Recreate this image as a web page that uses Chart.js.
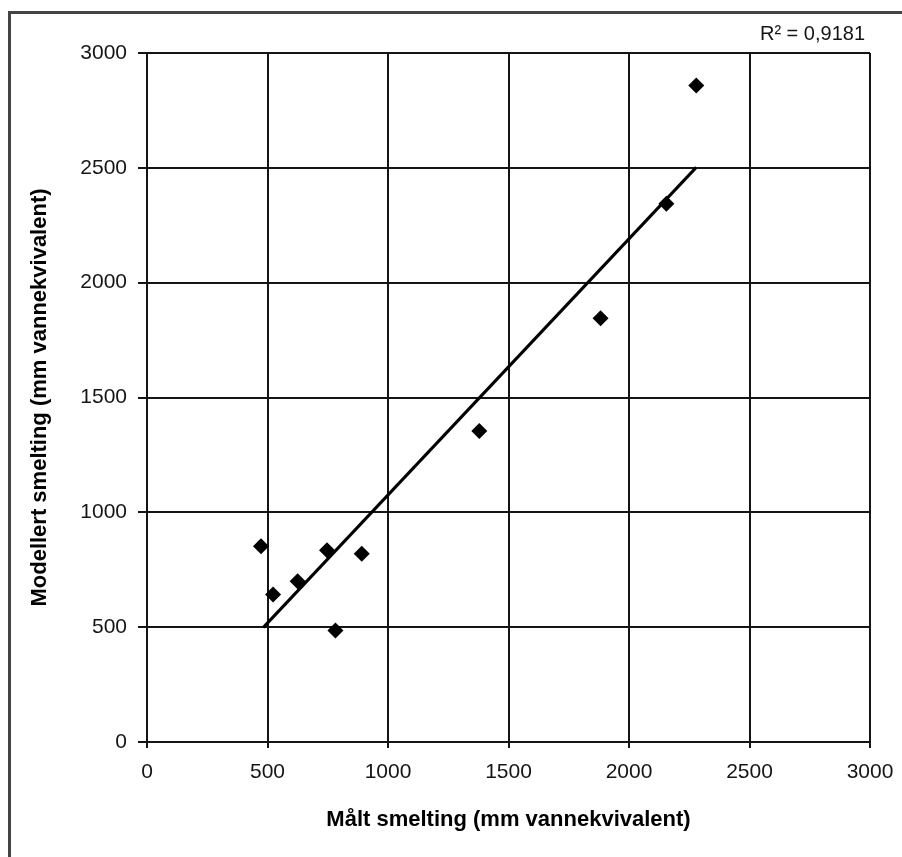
<!DOCTYPE html>
<html>
<head>
<meta charset="utf-8">
<script src="https://cdn.jsdelivr.net/npm/chart.js@4"></script>
<style>
  body { margin: 0; background: #fff; }
  #wrap { width: 902px; height: 857px; }
</style>
</head>
<body>
<div id="wrap"><canvas id="smeltChart" width="902" height="857"></canvas></div>
<script>
// measured vs modelled melt (mm water equivalent)
const maltSmelting = [473, 523, 625, 747, 782, 891, 1379, 1882, 2155, 2279];
const modellertSmelting = [852, 642, 700, 835, 486, 820, 1354, 1845, 2344, 2859];

// linear trend line, drawn between its two end points
const trendX = [483, 2279];
const trendY = [499, 2502];

const axisTicks = [0, 500, 1000, 1500, 2000, 2500, 3000];
const r2Label = "R\u00b2 = 0,9181";

const FONT = "'Liberation Sans', Arial, sans-serif";
const INK = "#151515";

const points = maltSmelting.map((x, i) => ({ x, y: modellertSmelting[i] }));
const trend = trendX.map((x, i) => ({ x, y: trendY[i] }));

// outer frame and the R² text
const extras = {
  id: "extras",
  beforeDraw(chart) {
    const ctx = chart.ctx;
    ctx.save();
    ctx.fillStyle = "#fff";
    ctx.fillRect(0, 0, chart.width, chart.height);
    ctx.strokeStyle = "#444";
    ctx.lineWidth = 3;
    ctx.beginPath();
    ctx.moveTo(9.5, chart.height + 5);
    ctx.lineTo(9.5, 12.5);
    ctx.lineTo(chart.width + 5, 12.5);
    ctx.stroke();
    ctx.restore();
  },
  afterDraw(chart) {
    const ctx = chart.ctx;
    ctx.save();
    ctx.font = "20px " + FONT;
    ctx.fillStyle = INK;
    ctx.textAlign = "right";
    ctx.textBaseline = "middle";
    ctx.fillText(r2Label, chart.chartArea.right - 5, 34);
    ctx.restore();
  }
};

const plain = v => String(v);

new Chart(document.getElementById("smeltChart"), {
  type: "scatter",
  data: {
    datasets: [
      {
        data: points,
        pointStyle: "rectRot",
        pointRadius: 8,
        backgroundColor: "#000",
        borderColor: "#000",
        borderWidth: 0
      },
      {
        type: "line",
        data: trend,
        showLine: true,
        pointRadius: 0,
        borderColor: "#000",
        borderWidth: 3,
        fill: false
      }
    ]
  },
  options: {
    responsive: false,
    animation: false,
    layout: { padding: { top: 53, right: 32, left: 0, bottom: 0 } },
    plugins: { legend: { display: false }, tooltip: { enabled: false } },
    scales: {
      x: {
        type: "linear",
        min: 0,
        max: 3000,
        afterBuildTicks: s => { s.ticks = axisTicks.map(v => ({ value: v })); },
        afterFit: s => { s.height = 115; s.paddingRight = 0; s.paddingLeft = 0; },
        ticks: { autoSkip: false, maxRotation: 0, padding: 12, color: INK, font: { family: FONT, size: 21 }, callback: plain },
        grid: { color: INK, lineWidth: 2, tickLength: 6 },
        border: { color: INK, width: 2 },
        title: {
          display: true,
          text: "Målt smelting (mm vannekvivalent)",
          color: "#000",
          font: { family: FONT, size: 22, weight: "bold" },
          padding: { top: 0, bottom: 24 }
        }
      },
      y: {
        type: "linear",
        min: 0,
        max: 3000,
        afterBuildTicks: s => { s.ticks = axisTicks.map(v => ({ value: v })); },
        afterFit: s => { s.width = 147; s.paddingTop = 0; s.paddingBottom = 0; },
        ticks: { autoSkip: false, padding: 11, color: INK, font: { family: FONT, size: 21 }, callback: plain },
        grid: { color: INK, lineWidth: 2, tickLength: 9 },
        border: { color: INK, width: 2 },
        title: {
          display: true,
          text: "Modellert smelting (mm vannekvivalent)",
          color: "#000",
          font: { family: FONT, size: 22, weight: "bold" },
          padding: { top: 27, bottom: 0 }
        }
      }
    }
  },
  plugins: [extras]
});
</script>
</body>
</html>
